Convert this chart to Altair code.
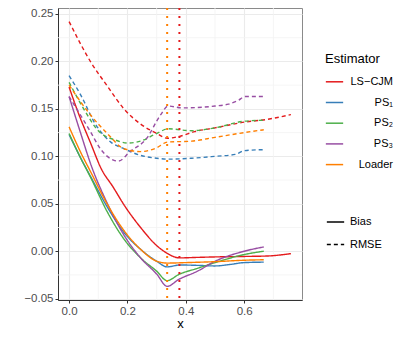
import altair as alt
import pandas as pd

estimators = ["LS−CJM", "PS₁", "PS₂", "PS₃", "Loader"]
colors = ["#E41A1C", "#377EB8", "#4DAF4A", "#984EA3", "#FF7F00"]
measures = ["Bias", "RMSE"]

# ---- Bias (solid) ----
lscjm_bias_x = [0, 0.03, 0.075, 0.11, 0.15, 0.19, 0.245, 0.30, 0.335, 0.378, 0.44, 0.5, 0.6, 0.68, 0.76]
lscjm_bias_y = [0.173, 0.147, 0.113, 0.087, 0.068, 0.048, 0.025, 0.006, -0.002, -0.007, -0.0065, -0.006, -0.0055, -0.005, -0.0025]

ps1_bias_x = [0, 0.04, 0.075, 0.13, 0.19, 0.245, 0.30, 0.336, 0.38, 0.45, 0.5, 0.55, 0.6, 0.667]
ps1_bias_y = [0.123, 0.098, 0.078, 0.047, 0.019, 0.002, -0.0105, -0.0165, -0.0145, -0.015, -0.0155, -0.014, -0.012, -0.0115]

ps2_bias_x = [0, 0.04, 0.075, 0.13, 0.19, 0.245, 0.30, 0.336, 0.376, 0.44, 0.5, 0.6, 0.667]
ps2_bias_y = [0.124, 0.098, 0.077, 0.042, 0.012, -0.007, -0.021, -0.031, -0.0245, -0.018, -0.012, -0.0035, 0.0]

ps3_bias_x = [0, 0.04, 0.075, 0.13, 0.19, 0.245, 0.30, 0.336, 0.376, 0.44, 0.5, 0.6, 0.667]
ps3_bias_y = [0.163, 0.124, 0.091, 0.051, 0.016, -0.007, -0.024, -0.037, -0.0297, -0.021, -0.0106, 0.0, 0.0045]

loader_bias_x = [0, 0.04, 0.075, 0.13, 0.19, 0.245, 0.30, 0.336, 0.4, 0.5, 0.6, 0.667]
loader_bias_y = [0.131, 0.104, 0.083, 0.050, 0.021, 0.002, -0.0105, -0.0125, -0.012, -0.011, -0.0095, -0.009]

# ---- RMSE (dashed) ----
lscjm_rmse_x = [0, 0.075, 0.131, 0.188, 0.245, 0.301, 0.336, 0.378, 0.43, 0.5, 0.6, 0.68, 0.76]
lscjm_rmse_y = [0.242, 0.199, 0.174, 0.150, 0.134, 0.124, 0.119, 0.121, 0.126, 0.130, 0.136, 0.139, 0.144]

ps1_rmse_x = [0, 0.041, 0.09, 0.143, 0.188, 0.245, 0.30, 0.34, 0.42, 0.5, 0.569, 0.6, 0.667]
ps1_rmse_y = [0.185, 0.164, 0.134, 0.115, 0.108, 0.101, 0.098, 0.097, 0.098, 0.100, 0.102, 0.106, 0.107]

ps2_rmse_x = [0, 0.05, 0.1, 0.16, 0.2, 0.245, 0.30, 0.34, 0.42, 0.5, 0.6, 0.667]
ps2_rmse_y = [0.178, 0.150, 0.127, 0.117, 0.114, 0.116, 0.124, 0.129, 0.127, 0.130, 0.137, 0.138]

ps3_rmse_x = [0, 0.075, 0.107, 0.152, 0.169, 0.209, 0.266, 0.312, 0.34, 0.388, 0.5, 0.546, 0.58, 0.603, 0.667]
ps3_rmse_y = [0.163, 0.125, 0.108, 0.096, 0.095, 0.105, 0.119, 0.143, 0.153, 0.151, 0.153, 0.155, 0.159, 0.163, 0.163]

loader_rmse_x = [0, 0.075, 0.131, 0.188, 0.245, 0.30, 0.336, 0.42, 0.5, 0.6, 0.667]
loader_rmse_y = [0.175, 0.143, 0.124, 0.108, 0.105, 0.109, 0.115, 0.116, 0.120, 0.125, 0.128]

# ---- vertical reference lines ----
vline_x = [0.378, 0.336]
vline_est = ["LS−CJM", "Loader"]

# ---- grid ----
x_major = [0.0, 0.2, 0.4, 0.6]
x_minor = [0.1, 0.3, 0.5, 0.7]
y_major = [-0.05, 0.0, 0.05, 0.10, 0.15, 0.20, 0.25]
y_minor = [-0.025, 0.025, 0.075, 0.125, 0.175, 0.225]

series = [
    ("LS−CJM", "Bias", lscjm_bias_x, lscjm_bias_y),
    ("PS₁", "Bias", ps1_bias_x, ps1_bias_y),
    ("PS₂", "Bias", ps2_bias_x, ps2_bias_y),
    ("PS₃", "Bias", ps3_bias_x, ps3_bias_y),
    ("Loader", "Bias", loader_bias_x, loader_bias_y),
    ("LS−CJM", "RMSE", lscjm_rmse_x, lscjm_rmse_y),
    ("PS₁", "RMSE", ps1_rmse_x, ps1_rmse_y),
    ("PS₂", "RMSE", ps2_rmse_x, ps2_rmse_y),
    ("PS₃", "RMSE", ps3_rmse_x, ps3_rmse_y),
    ("Loader", "RMSE", loader_rmse_x, loader_rmse_y),
]
rows = []
for est, meas, xs, ys in series:
    for xv, yv in zip(xs, ys):
        rows.append({"Estimator": est, "Measure": meas, "x": xv, "value": yv})
df = pd.DataFrame(rows)

vdf = pd.DataFrame({"x": vline_x, "Estimator": vline_est})
gx = pd.DataFrame({"x": x_minor})
gy = pd.DataFrame({"value": y_minor})

FONT = "Liberation Sans"
x_scale = alt.Scale(domain=[-0.038, 0.798], nice=False, zero=False)
y_scale = alt.Scale(domain=[-0.0514, 0.2563], nice=False, zero=False)
color_scale = alt.Scale(domain=estimators, range=colors)

x_axis = alt.Axis(
    values=x_major, format=".1f", title="x", grid=True,
    gridColor="#EBEBEB", gridWidth=1.1, domainColor="#333333",
    tickColor="#333333", tickSize=3, labelColor="#4D4D4D",
    labelFontSize=11.5, labelFont=FONT, labelPadding=2,
    titleFont=FONT, titleFontSize=13, titleFontWeight="normal",
    titleColor="#000000", titleBaseline="alphabetic", titleY=27)
y_axis = alt.Axis(
    values=y_major, format=".2f", title="", grid=True,
    gridColor="#EBEBEB", gridWidth=1.1, domainColor="#333333",
    tickColor="#333333", tickSize=3, labelColor="#4D4D4D",
    labelFontSize=11.5, labelFont=FONT, labelPadding=2)

color_enc = alt.Color(
    "Estimator:N",
    scale=color_scale,
    legend=alt.Legend(
        title="Estimator", orient="none", legendX=267, legendY=45,
        symbolType="stroke", symbolSize=300, symbolStrokeWidth=1.5,
        labelAlign="right", labelOffset=49, labelFontSize=11, labelFont=FONT,
        labelColor="#000000", titleFontSize=13, titleFont=FONT,
        titleFontWeight="normal", titleColor="#000000", titlePadding=6.3,
        rowPadding=5.7, padding=0, labelLimit=120,
    ),
)
dash_enc = alt.StrokeDash(
    "Measure:N",
    scale=alt.Scale(domain=measures, range=[[1, 0], [4, 3]]),
    legend=alt.Legend(
        title=None, orient="none", legendX=268, legendY=204.5,
        symbolType="stroke", symbolSize=300, symbolStrokeWidth=1.5,
        symbolStrokeColor="#000000", labelOffset=5, labelFontSize=11,
        labelFont=FONT, labelColor="#000000", rowPadding=7.5, padding=0,
    ),
)

grid_x = alt.Chart(gx).mark_rule(color="#F3F3F3", strokeWidth=0.8).encode(
    x=alt.X("x:Q", scale=x_scale, axis=x_axis))
grid_y = alt.Chart(gy).mark_rule(color="#F3F3F3", strokeWidth=0.8).encode(
    y=alt.Y("value:Q", scale=y_scale, axis=y_axis))

lines = alt.Chart(df).mark_line(strokeWidth=1.4, interpolate="monotone").encode(
    x=alt.X("x:Q", scale=x_scale, axis=x_axis),
    y=alt.Y("value:Q", scale=y_scale, axis=y_axis),
    color=color_enc,
    strokeDash=dash_enc,
)

vlines = alt.Chart(vdf).mark_rule(strokeWidth=2, strokeDash=[2, 6]).encode(
    x=alt.X("x:Q", scale=x_scale, axis=x_axis),
    color=alt.Color("Estimator:N", scale=color_scale),
)

chart = alt.layer(grid_x, grid_y, lines, vlines).properties(
    width=244, height=292,
    autosize=alt.AutoSizeParams(type="none"),
    padding={"left": 50, "top": 0, "right": 97, "bottom": 31},
).configure_view(stroke="#8A8A8A", strokeWidth=1)

chart.save("out.html", embed_options={"renderer": "svg", "actions": False})
